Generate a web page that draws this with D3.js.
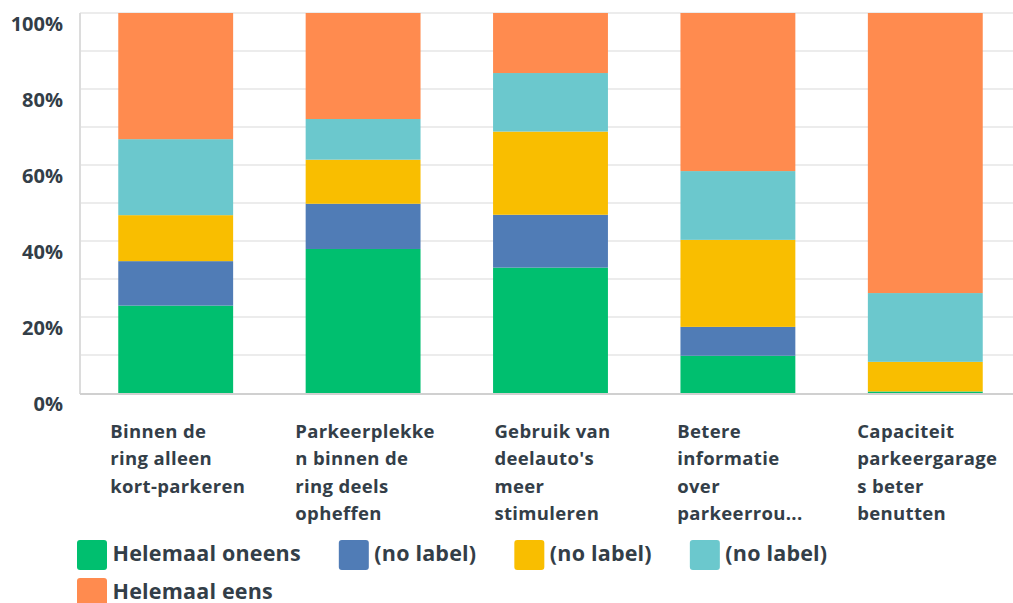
<!DOCTYPE html>
<html>
<head>
<meta charset="utf-8">
<script src="https://cdn.jsdelivr.net/npm/d3@7"></script>
<style>
  html, body { margin: 0; padding: 0; background: #fff; }
  svg { display: block; }
  text { font-family: "Open Sans", "Noto Sans", sans-serif; fill: #333e48; }
</style>
</head>
<body>
<svg id="chart" width="1013" height="603"></svg>
<script>
// ---- data ----
const categories = [
  "Binnen de ring alleen kort-parkeren",
  "Parkeerplekken binnen de ring deels opheffen",
  "Gebruik van deelauto's meer stimuleren",
  "Betere informatie over parkeerroutes",
  "Capaciteit parkeergarages beter benutten"
];
const categoryLabelLines = [
  ["Binnen de", "ring alleen", "kort-parkeren"],
  ["Parkeerplekke", "n binnen de", "ring deels", "opheffen"],
  ["Gebruik van", "deelauto's", "meer", "stimuleren"],
  ["Betere", "informatie", "over", "parkeerrou..."],
  ["Capaciteit", "parkeergarage", "s beter", "benutten"]
];
const seriesKeys = ["s1", "s2", "s3", "s4", "s5"];
const seriesNames = ["Helemaal oneens", "(no label)", "(no label)", "(no label)", "Helemaal eens"];
const seriesColors = ["#00bf6f", "#507cb6", "#f9be00", "#6bc8cd", "#ff8b4f"];
const helemaalOneens = [23.0, 37.9, 33.0, 9.8, 0.4];
const noLabelA = [11.7, 11.9, 13.9, 7.6, 0.0];
const noLabelB = [12.1, 11.6, 21.9, 22.9, 7.8];
const noLabelC = [20.0, 10.7, 15.4, 18.1, 18.1];
const helemaalEens = [33.2, 27.9, 15.8, 41.6, 73.7];
const gridTicks = [0, 10, 20, 30, 40, 50, 60, 70, 80, 90, 100];
const labelTicks = [0, 20, 40, 60, 80, 100];

// ---- build table ----
const seriesValues = [helemaalOneens, noLabelA, noLabelB, noLabelC, helemaalEens];
const table = categories.map((c, i) => {
  const row = { category: c };
  seriesKeys.forEach((k, j) => row[k] = seriesValues[j][i]);
  return row;
});

const svg = d3.select("#chart");
const x = d3.scaleBand().domain(categories).range([82, 1019]).paddingInner(0.387).paddingOuter(0.1935);
const y = d3.scaleLinear().domain([0, 100]).range([393, 13]);
const color = d3.scaleOrdinal().domain(seriesKeys).range(seriesColors);

// gridlines
svg.append("g").selectAll("line").data(gridTicks.filter(d => d > 0)).join("line")
  .attr("x1", 80).attr("x2", 1013)
  .attr("y1", d => y(d)).attr("y2", d => y(d))
  .attr("stroke", "#ececec").attr("stroke-width", 2);

// y axis line
svg.append("line").attr("x1", 80).attr("x2", 80).attr("y1", y(100)).attr("y2", y(0) + 1)
  .attr("stroke", "#dcdcdc").attr("stroke-width", 2);

// y labels
svg.append("g").selectAll("text").data(labelTicks).join("text")
  .attr("x", 63).attr("y", d => y(d) + 17.5)
  .attr("text-anchor", "end")
  .style("font-size", "20px").style("font-weight", 700)
  .text(d => d + "%");

// bars
const stacked = d3.stack().keys(seriesKeys)(table);
svg.append("g").selectAll("g").data(stacked).join("g")
  .attr("fill", d => color(d.key))
  .selectAll("rect").data(d => d).join("rect")
  .attr("x", d => x(d.data.category))
  .attr("width", x.bandwidth())
  .attr("y", d => y(d[1]))
  .attr("height", d => Math.max(0, y(d[0]) - y(d[1])));

// baseline
svg.append("line").attr("x1", 80).attr("x2", 1013).attr("y1", y(0) + 1).attr("y2", y(0) + 1)
  .attr("stroke", "#d0d0d0").attr("stroke-width", 2);

// x labels (left-aligned block centred under bar)
categories.forEach((c, i) => {
  const g = svg.append("g");
  const texts = g.selectAll("text").data(categoryLabelLines[i]).join("text")
    .attr("y", (d, j) => 437.5 + j * 27.5)
    .style("font-size", "18.5px").style("font-weight", 700)
    .style("letter-spacing", "0.35px")
    .text(d => d);
  let maxW = 0;
  texts.each(function() { maxW = Math.max(maxW, this.getComputedTextLength()); });
  const cx = x(c) + x.bandwidth() / 2;
  texts.attr("x", cx - maxW / 2 + 2);
});

// legend (flowing)
const legend = svg.append("g");
let lx = 77, ly = 540;
const rowH = 38, gap = 38, maxX = 1005;
seriesKeys.forEach((k, i) => {
  const item = legend.append("g");
  const t = item.append("text").attr("x", 35.5).attr("y", 21)
    .style("font-size", "21.5px").style("font-weight", 700)
    .style("letter-spacing", "0.2px")
    .text(seriesNames[i]);
  const w = 35.5 + t.node().getComputedTextLength();
  if (lx + w > maxX) { lx = 77; ly += rowH; }
  item.attr("transform", `translate(${lx},${ly})`);
  item.insert("rect", "text").attr("width", 30).attr("height", 30).attr("rx", 3)
    .attr("fill", seriesColors[i]);
  lx += w + gap;
});
</script>
</body>
</html>
